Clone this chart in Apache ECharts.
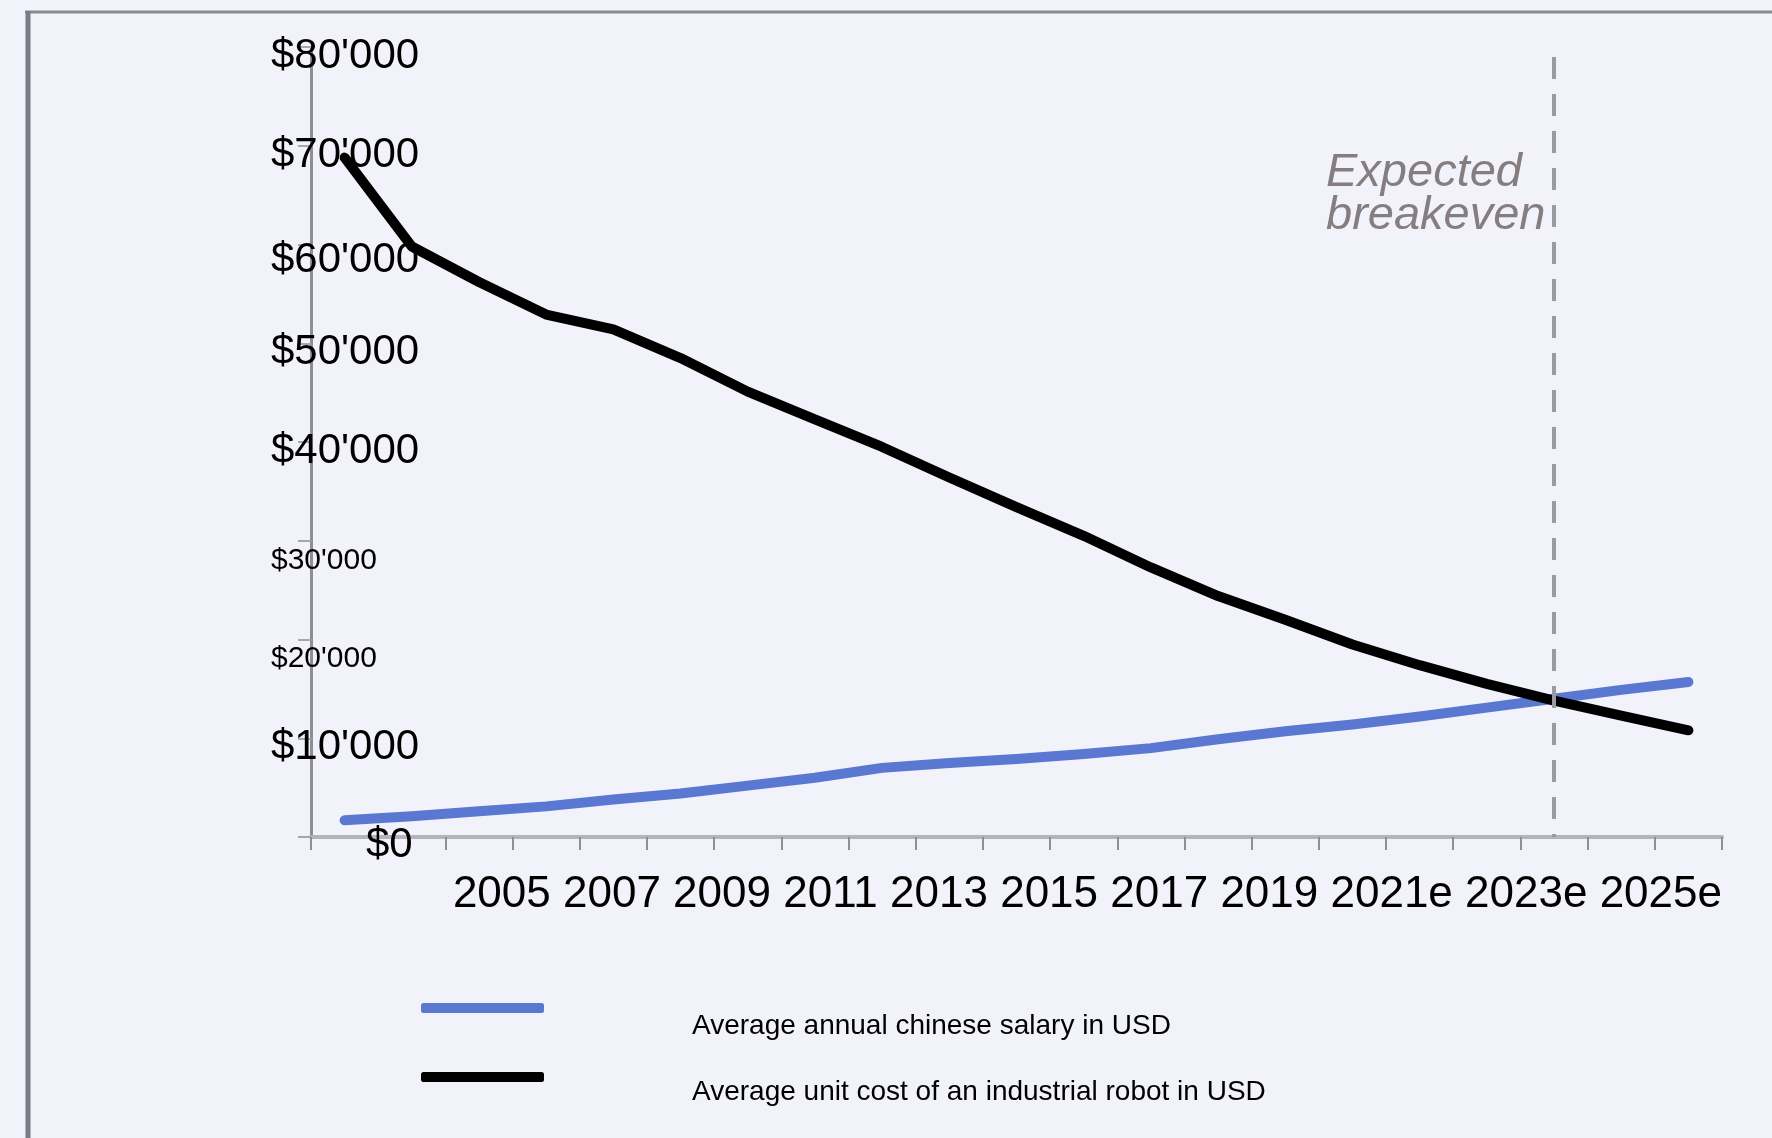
<!DOCTYPE html>
<html>
<head>
<meta charset="utf-8">
<style>
html,body{margin:0;padding:0;background:#f2f2fb;}
#chart{width:1772px;height:1138px;}
</style>
<script src="https://cdn.jsdelivr.net/npm/echarts@6/dist/echarts.min.js"></script>
</head>
<body>
<div id="chart"></div>
<script>
// ---- data ----
const years = ['2005','2006','2007','2008','2009','2010','2011','2012','2013','2014','2015',
               '2016','2017','2018','2019','2020','2021e','2022e','2023e','2024e','2025e'];
const xTickLabels = ['2005','2007','2009','2011','2013','2015','2017','2019','2021e','2023e','2025e'];
const salaryUSD = [1700,2100,2600,3100,3800,4400,5200,6000,7000,7500,7900,
                   8400,9000,9900,10700,11400,12200,13100,14000,14900,15700];
const robotCostUSD = [68800,59800,56200,52900,51400,48500,45100,42300,39500,36400,33400,
                      30500,27300,24400,22000,19500,17400,15500,13800,12300,10800];
const seriesNames = ['Average annual chinese salary in USD','Average unit cost of an industrial robot in USD'];
const breakevenYear = '2023e';
const breakevenText = ['Expected','breakeven'];
const smallLabelValues = [20000, 30000];

const FONT = '"Liberation Sans", Arial, sans-serif';

function fmtUSD(v){
  if (v === 0) return '$0';
  const k = Math.round(v/1000);
  return '$' + k + "'000";
}

const chart = echarts.init(document.getElementById('chart'), null, {renderer:'canvas'});
chart.setOption({
  animation:false,
  backgroundColor:'#f2f2fb',
  grid:{left:311, right:50, top:47, bottom:301, containLabel:false},
  xAxis:{
    type:'category', data:years, boundaryGap:true,
    axisLine:{show:true, lineStyle:{color:'#b4b4bc', width:4}},
    axisTick:{show:true, interval:0, length:13, lineStyle:{color:'#8f8f97', width:2}},
    axisLabel:{show:false},
    splitLine:{show:false}
  },
  yAxis:{
    type:'value', min:0, max:80000, interval:10000,
    axisLine:{show:true, lineStyle:{color:'#8e8e96', width:3}},
    axisTick:{show:true, length:13, lineStyle:{color:'#a6a6ae', width:2}},
    splitLine:{show:false},
    axisLabel:{
      align:'left', margin:40,
      formatter:function(v){
        const t = fmtUSD(v);
        if (v === 0) return '{z|' + t + '}';
        if (smallLabelValues.indexOf(v) >= 0) return '{s|' + t + '}';
        if (v === 60000) return '{m|' + t + '}';
        return '{b|' + t + '}';
      },
      rich:{
        b:{fontSize:42, fontFamily:FONT, color:'#000', padding:[19,0,0,0]},
        m:{fontSize:42, fontFamily:FONT, color:'#000', padding:[31,0,0,0]},
        s:{fontSize:30, fontFamily:FONT, color:'#000', padding:[39,0,0,0]},
        z:{fontSize:42, fontFamily:FONT, color:'#000', padding:[17,0,0,95]}
      }
    }
  },
  legend:[
    {
      data:[seriesNames[0]], left:421, top:1003, orient:'vertical', padding:0,
      itemWidth:123, itemHeight:10, icon:'roundRect', selectedMode:false,
      formatter:function(n){return '{t|' + n + '}';},
      textStyle:{rich:{t:{fontSize:28, fontFamily:FONT, color:'#000', padding:[36,0,0,143]}}}
    },
    {
      data:[seriesNames[1]], left:421, top:1072, orient:'vertical', padding:0,
      itemWidth:123, itemHeight:10, icon:'roundRect', selectedMode:false,
      formatter:function(n){return '{t|' + n + '}';},
      textStyle:{rich:{t:{fontSize:28, fontFamily:FONT, color:'#000', padding:[30,0,0,143]}}}
    }
  ],
  series:[
    {
      name:seriesNames[0], type:'line', data:salaryUSD, symbol:'none', z:3,
      lineStyle:{width:10, color:'#5a77d2', cap:'round', join:'round'},
      itemStyle:{color:'#5a77d2'}
    },
    {
      name:seriesNames[1], type:'line', data:robotCostUSD, symbol:'none', z:4,
      lineStyle:{width:10, color:'#000000', cap:'round', join:'round'},
      itemStyle:{color:'#000000'},
      markLine:{
        silent:true, symbol:'none', label:{show:false},
        lineStyle:{type:[22,15], color:'#9a9aa2', width:4},
        data:[[{coord:[breakevenYear, 79000]},{coord:[breakevenYear, 0]}]]
      }
    }
  ],
  graphic:[
    {type:'line', shape:{x1:25,y1:12,x2:1772,y2:12}, style:{stroke:'#8a8a92', lineWidth:3}, silent:true},
    {type:'line', shape:{x1:28,y1:11,x2:28,y2:1138}, style:{stroke:'#7c7c86', lineWidth:5}, silent:true},
    {type:'text', x:1722, y:895, silent:true,
     style:{text:xTickLabels.join(' '), fontSize:44, fontFamily:FONT, fill:'#000',
            align:'right', verticalAlign:'middle'}},
    {type:'text', x:1326, y:151, silent:true,
     style:{text:breakevenText.join('\n'), fontSize:47, fontStyle:'italic', fontFamily:FONT,
            fill:'#857d7f', lineHeight:43, align:'left', verticalAlign:'top'}}
  ]
});
</script>
</body>
</html>
